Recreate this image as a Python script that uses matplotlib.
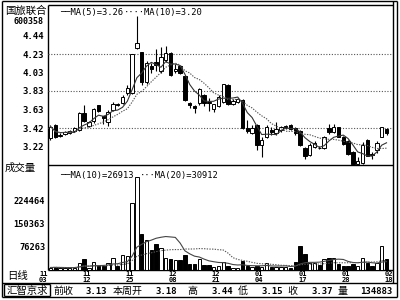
import numpy as np
import pandas as pd
import matplotlib
matplotlib.use('Agg')
import matplotlib.pyplot as plt

plt.rcParams['font.family'] = ['Noto Sans CJK SC', 'DejaVu Sans']
MONO = ['DejaVu Sans Mono']

stock_name = '国旅联合'
stock_code = '600358'

opens = [3.31, 3.46, 3.34, 3.36, 3.37, 3.39, 3.40, 3.59, 3.45, 3.50,
         3.67, 3.55, 3.49, 3.62, 3.69, 3.70, 3.81, 3.81, 4.30, 4.25,
         3.93, 4.10, 4.15, 4.05, 4.17, 4.24, 4.05, 4.10, 3.99, 3.70,
         3.66, 3.70, 3.78, 3.71, 3.63, 3.66, 3.71, 3.89, 3.69, 3.71,
         3.73, 3.42, 3.37, 3.46, 3.24, 3.33, 3.40, 3.37, 3.40, 3.43,
         3.46, 3.42, 3.39, 3.20, 3.13, 3.22, 3.21, 3.20, 3.42, 3.38,
         3.43, 3.33, 3.28, 3.16, 3.03, 3.04, 3.29, 3.14, 3.18, 3.33,
         3.41]
highs = [3.46, 3.47, 3.37, 3.39, 3.40, 3.43, 3.60, 3.67, 3.50, 3.64,
         3.68, 3.56, 3.62, 3.71, 3.70, 3.79, 3.89, 4.23, 4.65, 4.25,
         4.16, 4.14, 4.29, 4.31, 4.32, 4.26, 4.12, 4.11, 4.00, 3.71,
         3.67, 3.86, 3.80, 3.75, 3.69, 3.79, 3.91, 3.90, 3.74, 3.75,
         3.74, 3.51, 3.46, 3.47, 3.33, 3.46, 3.44, 3.49, 3.45, 3.46,
         3.47, 3.43, 3.40, 3.22, 3.26, 3.28, 3.23, 3.34, 3.47, 3.47,
         3.44, 3.34, 3.29, 3.17, 3.11, 3.27, 3.30, 3.16, 3.28, 3.44,
         3.42]
lows = [3.29, 3.31, 3.32, 3.35, 3.36, 3.38, 3.39, 3.49, 3.44, 3.48,
        3.60, 3.47, 3.45, 3.61, 3.66, 3.69, 3.79, 3.80, 4.29, 3.89,
        3.90, 4.03, 4.05, 4.03, 4.15, 3.99, 4.02, 4.01, 3.72, 3.64,
        3.59, 3.68, 3.66, 3.61, 3.60, 3.65, 3.70, 3.68, 3.67, 3.70,
        3.41, 3.37, 3.36, 3.18, 3.11, 3.31, 3.35, 3.35, 3.38, 3.41,
        3.40, 3.35, 3.23, 3.08, 3.12, 3.21, 3.19, 3.19, 3.36, 3.37,
        3.32, 3.24, 3.13, 3.03, 3.03, 3.03, 3.12, 3.09, 3.15, 3.32,
        3.35]
closes = [3.44, 3.33, 3.35, 3.38, 3.39, 3.42, 3.59, 3.50, 3.49, 3.63,
          3.61, 3.53, 3.60, 3.69, 3.67, 3.76, 3.86, 4.23, 4.35, 3.93,
          4.13, 4.07, 4.11, 4.20, 4.24, 4.00, 4.07, 4.02, 3.73, 3.68,
          3.64, 3.85, 3.70, 3.70, 3.69, 3.76, 3.90, 3.69, 3.72, 3.74,
          3.42, 3.39, 3.42, 3.24, 3.29, 3.44, 3.38, 3.41, 3.44, 3.45,
          3.41, 3.37, 3.24, 3.12, 3.24, 3.26, 3.20, 3.33, 3.38, 3.44,
          3.33, 3.25, 3.14, 3.03, 3.06, 3.24, 3.12, 3.13, 3.26, 3.43,
          3.37]
volumes = [8000, 9000, 7500, 7000, 7000, 7500, 22600, 34500, 8000, 25800,
           12000, 14000, 22600, 40000, 14000, 48300, 46400, 214000, 297700, 117000,
           95700, 63500, 82800, 72000, 37700, 35500, 31300, 33400, 47400, 20500,
           20500, 35500, 16100, 16100, 9700, 11800, 25800, 12000, 7700, 5500,
           29000, 12000, 9700, 12000, 9700, 22600, 9700, 9700, 9700, 9700,
           7700, 24800, 76400, 52800, 22600, 22600, 16100, 35500, 37700, 40100,
           20500, 14000, 14000, 18000, 13950, 37700, 22600, 14000, 24000, 76500,
           34383]

date_months = ['11', '11', '11', '12', '12', '01', '01', '01', '02']
date_days = ['03', '12', '25', '08', '21', '04', '17', '28', '18']
price_ticks = [4.44, 4.23, 4.03, 3.83, 3.63, 3.42, 3.22]
price_grid = [4.23, 3.83, 3.42]
vol_ticks = [224464, 150363, 76263]

status_items = [('前收', '3.13'), ('本周开', '3.18'), ('高', '3.44'),
                ('低', '3.15'), ('收', '3.37'), ('量', '134883')]

o = np.array(opens)
h = np.array(highs)
l = np.array(lows)
c = np.array(closes)
v = np.array(volumes)
n = len(c)
x = np.arange(n)
up = c >= o

ma5 = pd.Series(c).rolling(5, min_periods=1).mean().values
ma10 = pd.Series(c).rolling(10, min_periods=1).mean().values
vma10 = pd.Series(v).rolling(10, min_periods=1).mean().values
vma20 = pd.Series(v).rolling(20, min_periods=1).mean().values

W, H = 400, 300
fig = plt.figure(figsize=(4, 3), dpi=100)
fig.patch.set_facecolor('white')


def px_axes(x0, y0, x1, y1):
    return fig.add_axes([x0 / W, 1 - y1 / H, (x1 - x0) / W, (y1 - y0) / H])


# 프레임용 배경 축 (픽셀 좌표)
bg = fig.add_axes([0, 0, 1, 1])
bg.set_xlim(0, W)
bg.set_ylim(H, 0)
bg.axis('off')
lw = 1.0
for (xa, ya, xb, yb) in [(2, 1, 397, 1), (2, 1, 2, 297), (397, 1, 397, 297),
                         (2, 297, 397, 297), (48, 5, 393, 5), (393, 1, 393, 283),
                         (48, 5, 48, 270), (48, 165, 393, 165), (48, 270, 393, 270),
                         (2, 283, 397, 283), (4, 284, 50, 284), (4, 284, 4, 296),
                         (50, 284, 50, 296), (4, 296, 50, 296)]:
    bg.plot([xa, xb], [ya, yb], color='black', lw=lw, solid_capstyle='butt')

xl = (-0.52, 71.35)

# 가격 패널
ax1 = px_axes(48, 5, 393, 165)
ax1.set_facecolor('none')
ax1.set_xlim(*xl)
ax1.set_ylim(3.019, 4.769)
for yv in price_grid:
    ax1.axhline(yv, color='#555555', lw=0.8, ls=(0, (1, 1.5)), zorder=1)
ax1.vlines(x, l, h, color='black', lw=0.8, zorder=2)
body = np.maximum(np.abs(c - o), 0.006)
ax1.bar(x, body, bottom=np.minimum(o, c), width=0.72,
        color=np.where(up, 'white', 'black'), edgecolor='black', lw=0.7, zorder=3)
ax1.plot(x, ma5, color='#333333', lw=0.8, zorder=4)
ax1.plot(x, ma10, color='#555555', lw=0.8, ls=(0, (1.2, 1.2)), zorder=4)
ax1.set_yticks(price_ticks)
ax1.set_yticklabels([f'{t:.2f}' for t in price_ticks], family=MONO,
                    fontsize=6.5, fontweight='bold')
ax1.tick_params(axis='y', length=0, pad=3)
ax1.set_xticks([])
for s in ax1.spines.values():
    s.set_visible(False)
ax1.text(0.035, 0.955, f'\u2500\u2500MA(5)={ma5[-1]:.2f}', transform=ax1.transAxes,
         family=MONO, fontsize=6.3, va='center', ha='left')
ax1.text(0.22, 0.955, f'\u00b7\u00b7\u00b7\u00b7MA(10)={ma10[-1]:.2f}', transform=ax1.transAxes,
         family=MONO, fontsize=6.3, va='center', ha='left')

# 거래량 패널
ax2 = px_axes(48, 165, 393, 270)
ax2.set_facecolor('none')
ax2.set_xlim(*xl)
ax2.set_ylim(0, 337300)
ax2.bar(x, v, width=0.72, color=np.where(up, 'white', 'black'),
        edgecolor='black', lw=0.7, zorder=3)
ax2.plot(x, vma10, color='#444444', lw=0.8, zorder=4)
ax2.plot(x, vma20, color='#555555', lw=0.8, ls=(0, (1.2, 1.2)), zorder=4)
ax2.set_yticks(vol_ticks)
ax2.set_yticklabels([str(t) for t in vol_ticks], family=MONO,
                    fontsize=6.2, fontweight='bold')
ax2.tick_params(axis='y', length=0, pad=2)
ax2.set_xticks([])
for s in ax2.spines.values():
    s.set_visible(False)
ax2.text(0.035, 0.90, f'\u2500\u2500MA(10)={vma10[-1]:.0f}', transform=ax2.transAxes,
         family=MONO, fontsize=6.3, va='center', ha='left')
ax2.text(0.265, 0.90, f'\u00b7\u00b7\u00b7MA(20)={vma20[-1]:.0f}', transform=ax2.transAxes,
         family=MONO, fontsize=6.3, va='center', ha='left')

# 날짜 라벨 (월/일 두 줄)
tr = ax2.get_xaxis_transform()
for k, (mo, dy) in enumerate(zip(date_months, date_days)):
    xk = 9 * k - 1.5
    ax2.text(xk, -0.036, mo, transform=tr, family=MONO, fontsize=5.1,
             fontweight='bold', ha='center', va='center', clip_on=False, zorder=10)
    ax2.text(xk, -0.093, dy, transform=tr, family=MONO, fontsize=5.1,
             fontweight='bold', ha='center', va='center', clip_on=False, zorder=10)

# 좌측 라벨들
bg.text(26, 10.5, stock_name, fontsize=7.5, ha='center', va='center')
bg.text(28, 21.5, stock_code, family=MONO, fontsize=6, fontweight='bold',
        ha='center', va='center')
bg.text(20, 168, '成交量', fontsize=7.5, ha='center', va='center')
bg.text(18, 276.5, '日线', fontsize=7.5, ha='center', va='center')

# 하단 상태바
bg.text(27, 290.5, '汇智京求', fontsize=7.5, ha='center', va='center')
label_x = [53, 113, 187, 238, 287, 337]
value_r = [107, 177, 233, 283, 333, 392]
for (lab, val), lx, vr in zip(status_items, label_x, value_r):
    bg.text(lx, 291, lab, fontsize=7.2, ha='left', va='center')
    bg.text(vr, 291, val, family=MONO, fontsize=6.5, fontweight='bold',
            ha='right', va='center')

fig.savefig('out.png', dpi=100, facecolor='white')
